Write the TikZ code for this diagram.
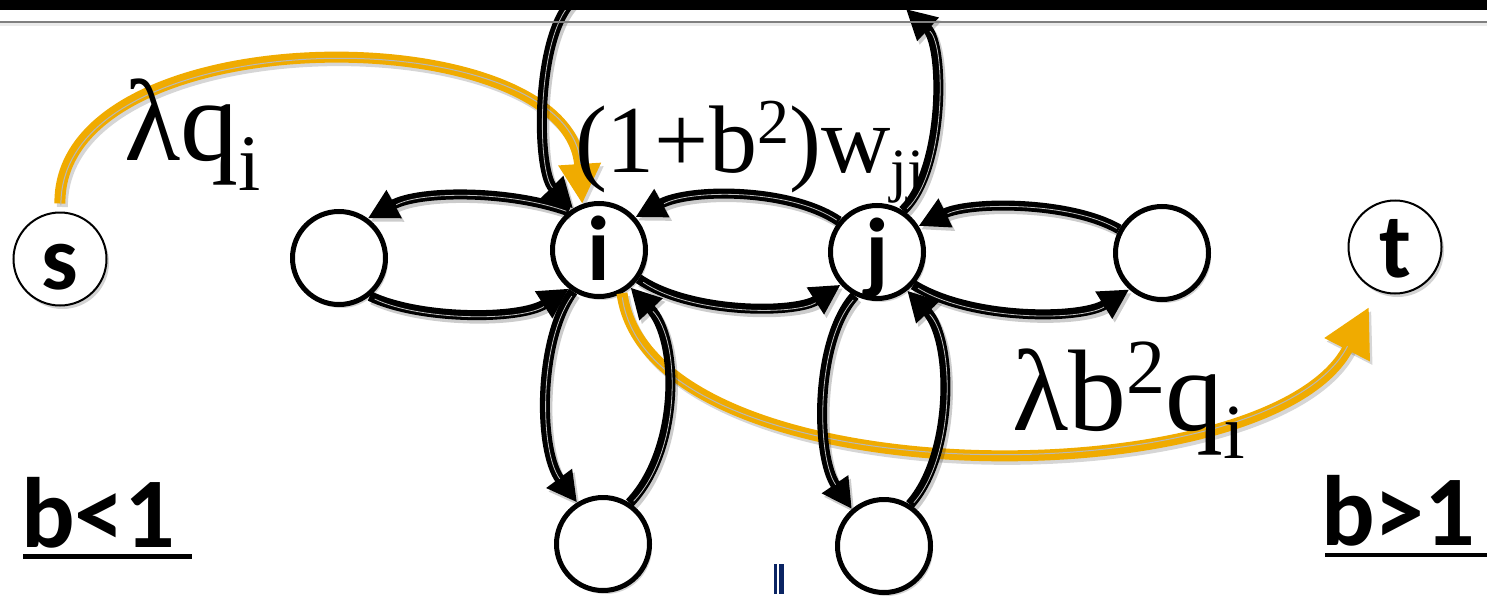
\documentclass[tikz,border=0pt]{standalone}
\usepackage{fontspec}
\setmainfont{Liberation Serif}
\newfontfamily\nodesans{Carlito}
\usetikzlibrary{arrows.meta,shadows}
\definecolor{pathorange}{RGB}{240,171,0}
\definecolor{barnavy}{RGB}{10,36,99}
\tikzset{
  vtx/.style={circle, draw=black, fill=white, line width=5pt, minimum size=93pt,
    inner sep=0pt, text height=60pt, text depth=0pt,
    font=\nodesans\bfseries\fontsize{92}{92}\selectfont,
    drop shadow={shadow xshift=2.5pt, shadow yshift=-3.5pt, opacity=0.35}},
  term/.style={vtx, line width=2pt},
  flowshadow/.style={draw=black, opacity=0.2, line width=10pt,
    -{Triangle[length=30pt,width=30pt]}, transform canvas={shift={(2.5pt,-3.5pt)}}},
  flowbody/.style={draw=black, line width=10pt, -{Triangle[length=30pt,width=30pt]}},
  flowstripe/.style={draw=white!75!black, line width=0.8pt, shorten >=31pt, shorten <=4pt,
    transform canvas={shift={(1.2pt,-1.2pt)}}},
  seedshadow/.style={draw=black, opacity=0.16, line width=11pt, transform canvas={shift={(2.5pt,-3.5pt)}}},
  seedbody/.style={draw=pathorange, line width=11pt},
  seedstripe/.style={draw=white!72!black, line width=1pt},
  wlabel/.style={anchor=base west, inner sep=0pt, outer sep=0pt},
  caselabel/.style={anchor=base west, inner sep=0pt, outer sep=0pt,
    font=\nodesans\bfseries\fontsize{100}{100}\selectfont},
}
% a black link: soft shadow, solid body with tip, thin light stripe
\newcommand\flowlink[1]{%
  \draw[flowshadow] #1;
  \draw[flowbody] #1;
  \draw[flowstripe] #1;}
% an orange link; #1 tip options, #2 stripe options, #3 path
\newcommand\seedlink[3]{%
  \draw[seedshadow, #1] #3;
  \draw[seedbody, #1] #3;
  \draw[seedstripe, #2] #3;}
\begin{document}
\begin{tikzpicture}[x=1pt,y=-1pt]
\useasboundingbox (0,0) rectangle (1487,599);

% vertices
\node[term] (s) at (60,259) {s};
\node[vtx]  (L) at (339,258) {};
\node[vtx]  (i) at (599,250) {i};
\node[vtx]  (j) at (877,252) {j};
\node[vtx]  (R) at (1162,253) {};
\node[term] (t) at (1395,247) {t};
\node[vtx]  (BL) at (603,544) {};
\node[vtx]  (BR) at (884,546) {};

% source and sink links
\seedlink{-{Triangle[length=40pt,width=40pt]}, shorten <=8pt}
  {shorten <=8pt, shorten >=42pt, transform canvas={shift={(1pt,-1.8pt)}}}
  {(s.north) .. controls (58,15) and (570,15) .. (i.110)}
\seedlink{-{Triangle[length=48pt,width=48pt]}, shorten >=18pt}
  {shorten >=64pt, shorten <=6pt, transform canvas={shift={(-0.5pt,1.8pt)}}}
  {(i.-62) .. controls (650,500) and (1270,500) .. (t.248)}

% weights
\node[wlabel] (wsi) at (124,160)
  {\fontsize{116}{116}\selectfont λq\raisebox{-30pt}{\fontsize{80}{80}\selectfont i}};
\node[wlabel] (wjj) at (575,172)
  {\fontsize{96}{96}\selectfont (1+b\raisebox{29pt}{\fontsize{64}{64}\selectfont 2})w\raisebox{-18pt}{\fontsize{60}{60}\selectfont jj}};
\node[wlabel] (wit) at (1012,430)
  {\fontsize{116}{116}\selectfont λb\raisebox{37pt}{\fontsize{78}{78}\selectfont 2}q\raisebox{-28pt}{\fontsize{78}{78}\selectfont i}};

% neighbour edges
\flowlink{(i.128) .. controls (510,190) and (420,190) .. (L.54)}
\flowlink{(L.-51) .. controls (420,320) and (520,320) .. (i.232)}
\flowlink{(j.141) .. controls (790,188) and (690,188) .. (i.42)}
\flowlink{(i.-36) .. controls (690,314) and (795,314) .. (j.222)}
\flowlink{(R.151) .. controls (1070,201) and (970,201) .. (j.32)}
\flowlink{(j.-42) .. controls (970,320) and (1080,320) .. (R.228)}
\flowlink{(i.238) .. controls (538,340) and (538,450) .. (BL.122)}
\flowlink{(BL.57) .. controls (680,450) and (680,340) .. (i.-50)}
\flowlink{(j.243) .. controls (815,340) and (815,455) .. (BR.131)}
\flowlink{(BR.58) .. controls (954,455) and (954,340) .. (j.-52)}

% edges leaving through the top
\coordinate (topR) at (906,9);
\coordinate (topL) at (580,-5);
\flowlink{(j.58) .. controls (945,170) and (945,45) .. (topR)}
\flowlink{(topL) .. controls (535,20) and (535,170) .. (i.122)}

% case labels
\node[caselabel] (bl) at (21,547) {b<1};
\draw[line width=4.5pt] (23,556.5) -- (192,556.5);
\node[caselabel] (bg) at (1321,545) {b>1};
\draw[line width=4.5pt] (1325,555) -- (1487,555);

% small mark at the bottom
\fill[barnavy] (774,564) rectangle (777,594);
\fill[barnavy] (779,564) rectangle (784,594);

% title bar
\fill[black] (0,0) rectangle (1487,10);
\draw[black, opacity=0.08, line width=3pt] (0,25) -- (1487,25);
\draw[gray, line width=2.5pt] (0,22) -- (1487,22);
\end{tikzpicture}
\end{document}
